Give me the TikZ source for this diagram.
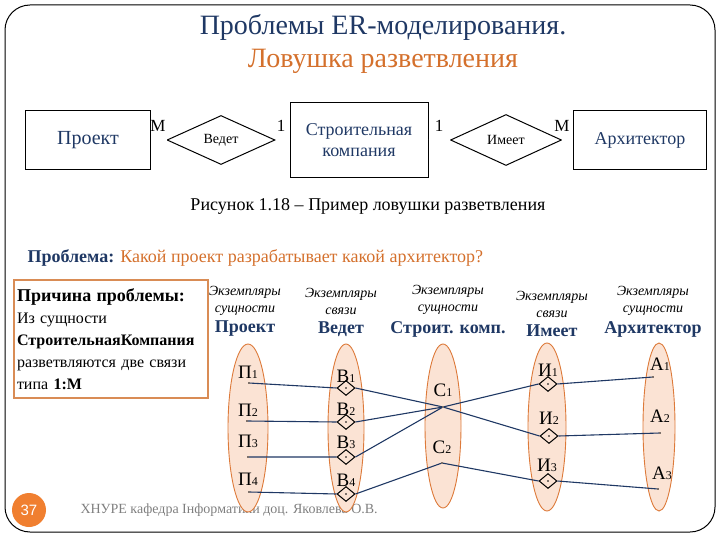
\documentclass[tikz,border=0pt]{standalone}
\usepackage{fontspec}
\setmainfont{Liberation Serif}
\newfontfamily\numfont{Liberation Sans}
\usepackage{xcolor}
\usetikzlibrary{positioning, shapes, arrows}

\definecolor{navy}{HTML}{1F3864}
\definecolor{ttlorange}{HTML}{D4702C}
\definecolor{peach}{HTML}{FBE3D4}
\definecolor{peachline}{HTML}{DD7A3A}
\definecolor{boxorange}{HTML}{D98C55}
\definecolor{footgray}{HTML}{7F7F7F}
\definecolor{badge}{HTML}{F07F30}

\newcommand\idx[1]{{\fontsize{12}{12}\selectfont #1}}
\newcommand\fsz[1]{\fontsize{#1}{#1}\selectfont}

\begin{document}
\begin{tikzpicture}[x=1pt, y=-1pt]
\tikzset{ent/.style={draw, line width=1pt, minimum height=59pt, text=navy, font=\fsz{20}, align=center},
         rel/.style={diamond, draw, line width=1pt, minimum width=108pt, minimum height=49pt, inner sep=0pt, font=\fsz{14}},
         eset/.style={ellipse, draw=peachline, fill=peach, line width=0.9pt, minimum height=168pt, inner sep=0pt},
         inst/.style={diamond, draw, line width=1pt, minimum width=18pt, minimum height=15pt, inner sep=0pt,
                      path picture={\fill (path picture bounding box.center) circle (0.8pt);}},
         pnt/.style={circle, fill, inner sep=0pt, minimum size=1.8pt},
         lbl/.style={font=\fsz{19}},
         card/.style={font=\fsz{17}},
         link/.style={draw=navy, line width=1.1pt},
         dbl/.style={double, double distance=1.5pt, line width=0.6pt},
         hd/.style={font=\fontsize{14}{17}\selectfont\itshape, align=center},
         hb/.style={font=\fsz{18}\bfseries, text=navy}}
\useasboundingbox (0,0) rectangle (720,540);
\draw[line width=1pt, rounded corners=25pt] (5,5) rectangle (715,532);

% title
\node[font=\fsz{28}, text=navy]      (ttl) at (383,27) {Проблемы ER-моделирования.};
\node[font=\fsz{28}, text=ttlorange] (sub) at (383,61) {Ловушка разветвления};

% ER diagram
\node[ent, minimum width=125pt]                                  (proj)  at (88,140)  {Проект};
\node[rel]                                                       (vedet) at (221,140) {Ведет};
\node[ent, minimum width=138pt, minimum height=75pt, font=\fontsize{18}{21}\selectfont] (stroy) at (359,140) {Строительная\\компания};
\node[rel, minimum width=111pt, minimum height=51pt]             (imeet) at (506,140) {Имеет};
\node[ent, minimum width=133pt, font=\fsz{18}]                   (arch)  at (640,140) {Архитектор};
\draw[dbl] (proj) -- (vedet);  \draw[dbl] (vedet) -- (stroy);
\draw[dbl] (stroy) -- (imeet); \draw[dbl] (imeet) -- (arch);
\node[card] (m1) at (158,126) {M}; \node[card] (o1) at (281,126) {1};
\node[card] (o2) at (439,126) {1}; \node[card] (m2) at (562,126) {M};
\node[font=\fsz{18}] (cap) at (368,206) {Рисунок 1.18 -- Пример ловушки разветвления};

% problem
\node[anchor=west, font=\fsz{18}] (prob) at (24,258)
     {\textbf{\color{navy}Проблема:} \color{ttlorange}Какой проект разрабатывает какой архитектор?};
\node[draw=boxorange, line width=1.2pt, minimum width=194pt, minimum height=118pt, text width=188pt,
      inner xsep=3pt, align=left, font=\fontsize{16}{22}\selectfont] (why) at (111,339)
     {{\fsz{18}\bfseries Причина проблемы:}\\Из сущности\\\textbf{СтроительнаяКомпания}\\разветвляются две связи\\типа \textbf{1:M}};

% column heads
\node[hd] (h1) at (245,301) {Экземпляры\\сущности}; \node[hb] (b1) at (245,329) {Проект};
\node[hd] (h2) at (341,301) {Экземпляры\\связи};    \node[hb] (b2) at (341,329) {Ведет};
\node[hd] (h3) at (448,300) {Экземпляры\\сущности}; \node[hb] (b3) at (448,329) {Строит. комп.};
\node[hd] (h4) at (552,304) {Экземпляры\\связи};    \node[hb] (b4) at (552,331) {Имеет};
\node[hd] (h5) at (653,301) {Экземпляры\\сущности}; \node[hb] (b5) at (653,329) {Архитектор};

% footer
\node[circle, fill=badge, minimum size=34pt, text=white, font=\numfont\fsz{15}] (pg) at (29,510) {37};
\node[anchor=west, text=footgray, font=\fsz{14}] (foot) at (77,510) {ХНУРЕ кафедра Інформатики доц. Яковлева О.В.};

% instances
\node[eset, minimum width=40pt]                     (ep) at (248,428) {};
\node[eset, minimum width=36pt]                     (ev) at (346,428) {};
\node[eset, minimum width=36pt, minimum height=164pt] (ec) at (443,426) {};
\node[eset, minimum width=38pt]                     (ei) at (547,427) {};
\node[eset, minimum width=32pt]                     (ea) at (659,427) {};

\node[pnt] (p1) at (249,383) {}; \node[lbl] at (248,372) {П\idx{1}};
\node[pnt] (p2) at (247,421) {}; \node[lbl] at (248,410) {П\idx{2}};
\node[pnt] (p3) at (248,457) {}; \node[lbl] at (248,441) {П\idx{3}};
\node[pnt] (p4) at (249,492) {}; \node[lbl] at (248,479) {П\idx{4}};
\node[inst] (v1) at (346,388) {}; \node[lbl] at (346,376) {В\idx{1}};
\node[inst] (v2) at (346,422) {}; \node[lbl] at (346,409) {В\idx{2}};
\node[inst] (v3) at (346,457) {}; \node[lbl] at (346,442) {В\idx{3}};
\node[inst] (v4) at (346,494) {}; \node[lbl] at (346,480) {В\idx{4}};
\node[pnt] (c1) at (443,407) {}; \node[lbl] at (443,390) {С\idx{1}};
\node[pnt] (c2) at (442,463) {}; \node[lbl] at (442,447) {С\idx{2}};
\node[inst] (i1) at (548,384) {}; \node[lbl] at (548,370) {И\idx{1}};
\node[inst] (i2) at (549,436) {}; \node[lbl] at (549,418) {И\idx{2}};
\node[inst] (i3) at (548,481) {}; \node[lbl] at (547,465) {И\idx{3}};
\node[pnt] (a1) at (653,377) {}; \node[lbl] at (660,364) {А\idx{1}};
\node[pnt] (a2) at (660,433) {}; \node[lbl] at (660,416) {А\idx{2}};
\node[pnt] (a3) at (658,489) {}; \node[lbl] at (662,473) {А\idx{3}};

\draw[link] (p1) -- (v1.west) (p2) -- (v2.west) (p3) -- (v3.west) (p4) -- (v4.west);
\draw[link] (v1.east) -- (c1) (v2.east) -- (c1) (v3.east) -- (c1) (v4.east) -- (c2);
\draw[link] (c1) -- (i1.west) (c1) -- (i2.west) (c2) -- (i3.west);
\draw[link] (i1.east) -- (a1) (i2.east) -- (a2) (i3.east) -- (a3);
\end{tikzpicture}
\end{document}
